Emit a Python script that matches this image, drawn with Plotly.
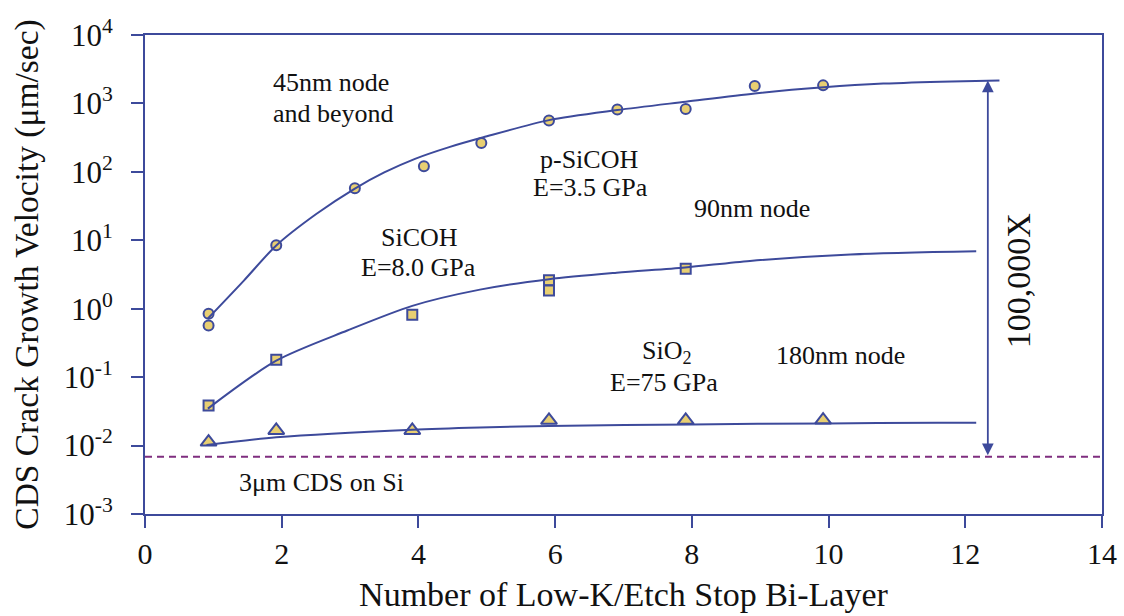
import math
import plotly.graph_objects as go

# ---------------- data ----------------
# p-SiCOH (E=3.5 GPa) measured points
psicoh_x = [0.93, 0.93, 1.92, 3.07, 4.08, 4.92, 5.91, 6.91, 7.91, 8.92, 9.92]
psicoh_y = [0.845, 0.57, 8.45, 57.7, 121, 265, 565, 818, 826, 1793, 1836]
# p-SiCOH fit curve
psicoh_fit_x = [0.92, 1.45, 1.92, 2.5, 3.07, 3.5, 3.95, 4.45, 4.95, 5.91, 6.91, 7.91, 8.92, 9.93, 10.8, 11.8, 12.5]
psicoh_fit_y = [0.72, 2.6, 8.4, 24, 57, 98, 155, 230, 320, 570, 800, 1060, 1400, 1720, 1950, 2100, 2160]

# SiCOH (E=8.0 GPa) measured points
sicoh_x = [0.93, 1.92, 3.91, 5.91, 5.91, 7.91]
sicoh_y = [0.0385, 0.179, 0.818, 2.6, 1.85, 3.85]
# SiCOH fit curve
sicoh_fit_x = [0.92, 1.92, 2.96, 3.91, 4.90, 5.91, 6.9, 7.90, 8.85, 10.32, 12.16]
sicoh_fit_y = [0.0347, 0.174, 0.48, 1.1, 1.9, 2.7, 3.35, 4.0, 5.0, 6.2, 6.9]

# SiO2 (E=75 GPa) measured points
sio2_x = [0.93, 1.92, 3.91, 5.91, 7.91, 9.92]
sio2_y = [0.01125, 0.01667, 0.01667, 0.0234, 0.0234, 0.0236]
# SiO2 fit curve
sio2_fit_x = [0.9, 1.92, 3.91, 4.9, 5.91, 8.0, 10.0, 11.6, 12.16]
sio2_fit_y = [0.0102, 0.0132, 0.0171, 0.0184, 0.0193, 0.0204, 0.0211, 0.0215, 0.0216]

# 3um CDS on Si reference level
cds_on_si = 0.00686
cds_x = [0, 14]

# ticks
x_ticks = [0, 2, 4, 6, 8, 10, 12, 14]
y_tick_vals = [1e-3, 1e-2, 1e-1, 1e0, 1e1, 1e2, 1e3, 1e4]
y_tick_text = ["10<sup>-3</sup>", "10<sup>-2</sup>", "10<sup>-1</sup>", "10<sup>0</sup>",
               "10<sup>1</sup>", "10<sup>2</sup>", "10<sup>3</sup>", "10<sup>4</sup>"]

# ---------------- style ----------------
AXIS = "#3D4A9B"
FILL = "#E8CF72"
DASH = "#7F2E7F"
TXT = "#111111"
FONT = "Liberation Serif"

fig = go.Figure()

# markers first (fit lines drawn over them)
fig.add_trace(go.Scatter(x=psicoh_x, y=psicoh_y, mode="markers",
                         marker=dict(symbol="circle", size=10, color=FILL,
                                     line=dict(color=AXIS, width=2))))
fig.add_trace(go.Scatter(x=sicoh_x, y=sicoh_y, mode="markers",
                         marker=dict(symbol="square", size=10, color=FILL,
                                     line=dict(color=AXIS, width=2))))
fig.add_trace(go.Scatter(x=sio2_x, y=sio2_y, mode="markers",
                         marker=dict(symbol="triangle-up", size=14, color=FILL,
                                     line=dict(color=AXIS, width=2))))

for fx, fy in [(psicoh_fit_x, psicoh_fit_y), (sicoh_fit_x, sicoh_fit_y), (sio2_fit_x, sio2_fit_y)]:
    fig.add_trace(go.Scatter(x=fx, y=fy, mode="lines",
                             line=dict(color=AXIS, width=2, shape="spline", smoothing=0.8)))

fig.add_trace(go.Scatter(x=cds_x, y=[cds_on_si, cds_on_si], mode="lines",
                         line=dict(color=DASH, width=2, dash="7px,5px")))


def ann(text, x, ly, size=26, xanchor="center", **kw):
    return dict(text=text, x=x, y=ly, xref="x", yref="y", showarrow=False,
                xanchor=xanchor, yanchor="middle",
                font=dict(family=FONT, size=size, color=TXT), **kw)

annotations = [
    ann("45nm node", 1.84, 3.305, xanchor="left"),
    ann("and beyond", 1.84, 2.86, xanchor="left"),
    ann("p-SiCOH", 6.49, 2.185),
    ann("E=3.5 GPa", 6.51, 1.768),
    ann("90nm node", 8.0, 1.468, xanchor="left"),
    ann("SiCOH", 4.02, 1.036),
    ann("E=8.0 GPa", 4.0, 0.609),
    ann("SiO<sub>2</sub>", 7.24, -0.63, xanchor="left"),
    ann("E=75 GPa", 7.59, -1.075),
    ann("180nm node", 9.2, -0.688, xanchor="left"),
    ann("3\u03bcm CDS on Si", 1.34, -2.542, xanchor="left"),
    ann("100,000X", 12.77, 0.414, size=34, textangle=-90),
]

ARROW_X = 12.33
annotations.append(dict(
    x=ARROW_X, y=math.log10(psicoh_fit_y[-1]), ax=ARROW_X, ay=math.log10(cds_on_si),
    xref="x", yref="y", axref="x", ayref="y", text="", showarrow=True,
    arrowhead=2, arrowsize=1.3, arrowwidth=1.8, arrowcolor=AXIS,
    arrowside="end+start", startarrowhead=2, startarrowsize=1.3,
))

fig.update_layout(
    width=1124, height=616,
    margin=dict(l=145, r=22, t=35, b=102, autoexpand=False),
    paper_bgcolor="white", plot_bgcolor="white",
    showlegend=False,
    font=dict(family=FONT, color=TXT),
    annotations=annotations,
)

fig.update_xaxes(
    range=[0, 14], tickvals=x_ticks, ticks="outside", ticklen=12, tickwidth=2,
    tickcolor=AXIS, showline=True, linecolor=AXIS, linewidth=2, mirror=True,
    showgrid=False, zeroline=False, tickfont=dict(family=FONT, size=30, color=TXT),
    ticklabelstandoff=0, automargin=False,
    title=dict(text="Number of Low-K/Etch Stop Bi-Layer",
               font=dict(family=FONT, size=34, color=TXT), standoff=13),
)
fig.update_yaxes(
    type="log", range=[-3, 4], tickvals=y_tick_vals, ticktext=y_tick_text,
    ticks="outside", ticklen=12, tickwidth=2, tickcolor=AXIS,
    showline=True, linecolor=AXIS, linewidth=2, mirror=True,
    showgrid=False, zeroline=False, tickfont=dict(family=FONT, size=31, color=TXT),
    ticklabelstandoff=12, automargin=False,
    title=dict(text="CDS Crack Growth Velocity (\u03bcm/sec)",
               font=dict(family=FONT, size=33.5, color=TXT), standoff=15),
)

fig.write_html("out.html")
